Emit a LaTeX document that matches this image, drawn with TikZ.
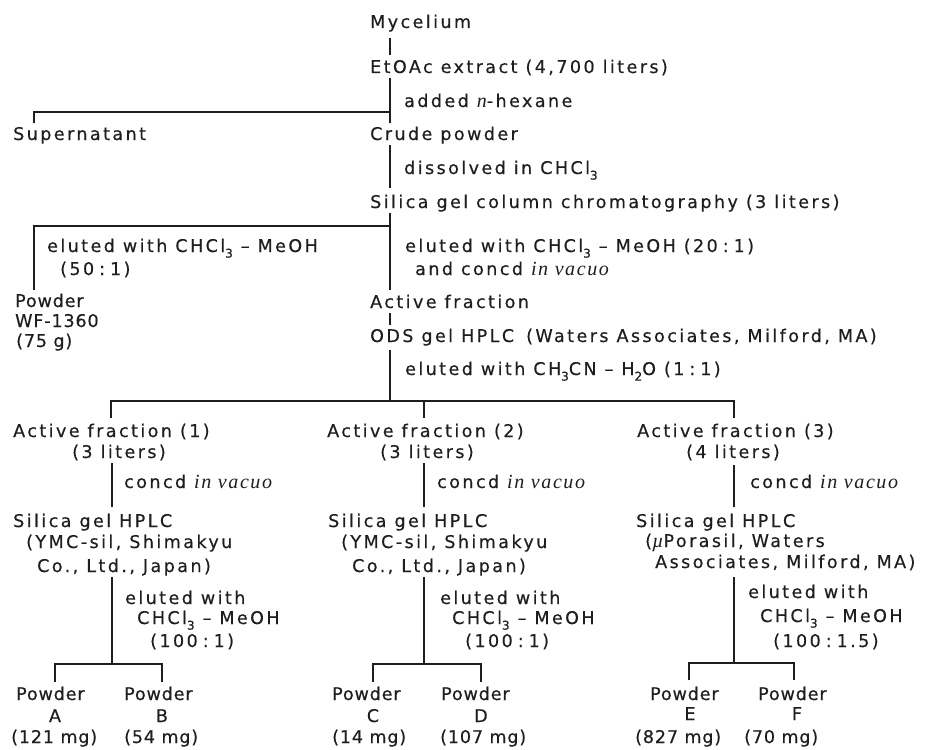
\documentclass[tikz,border=0pt]{standalone}
\usepackage{fontspec}
\setmainfont{DejaVu Sans}[LetterSpace=14,FakeBold=0.4]
\newfontfamily\seriffont{Liberation Serif}[LetterSpace=8]
\newcommand\itx[1]{{\fontsize{20}{20}\seriffont\itshape #1}}
\newcommand\lowsub[1]{\raisebox{-0.32em}{\fontsize{12}{12}\selectfont #1}}
\newcommand\rat[2]{(#1\hspace{5pt}:\hspace{5pt}#2)}
\definecolor{ink}{HTML}{1E1E1E}
\begin{document}
\begin{tikzpicture}[x=1pt,y=-1pt,
  txt/.style={anchor=base west, inner sep=0pt, font=\fontsize{17.5}{20}\selectfont, text=ink},
  tight/.style={txt, font=\fontsize{17.5}{20}\selectfont\addfontfeature{LetterSpace=5}},
  ctr/.style={anchor=base, inner sep=0pt, font=\fontsize{17.5}{20}\selectfont, text=ink},
  conn/.style={draw=ink, line width=1.5pt}]
\fill[white] (0,0) rectangle (933,749);
\useasboundingbox (0,0) rectangle (933,749);

% ---- top part ----
\node[txt] (myc) at (370,28) {Mycelium};
\node[txt] (etoac) at (370,73) {EtOAc extract (4,700 liters)};
\node[txt] (hex) at (404,107) {added \itx{n}-hexane};
\node[txt] (sup) at (13,140) {Supernatant};
\node[txt] (crude) at (370,140) {Crude powder};
\node[txt] (diss) at (404,174) {dissolved in CHCl\lowsub{3}};
\node[txt] (scol) at (370,208) {Silica gel column chromatography (3 liters)};
\node[txt] (ela) at (47,252) {eluted with CHCl\lowsub{3} -- MeOH};
\node[txt] (elb) at (60,275) {\rat{50}{1}};
\node[txt] (elc) at (405,252) {eluted with CHCl\lowsub{3} -- MeOH \rat{20}{1}};
\node[txt] (eld) at (415,275) {and concd \itx{in vacuo}};
\node[tight] (pw) at (15,307) {Powder};
\node[tight] (wf) at (15,327) {WF-1360};
\node[tight] (g75) at (16,347) {(75 g)};
\node[txt] (act) at (370,308) {Active fraction};
\node[txt] (ods) at (370,342) {ODS gel HPLC\hspace{4pt} (Waters Associates, Milford, MA)};
\node[txt] (ele) at (405,375) {eluted with CH\lowsub{3}CN -- H\lowsub{2}O \rat{1}{1}};

% ---- column 1 ----
\node[txt] (af1) at (13,437) {Active fraction (1)};
\node[txt] (li1) at (72,458) {(3 liters)};
\node[txt] (cv1) at (124,488) {concd \itx{in vacuo}};
\node[txt] (sg1) at (13,527) {Silica gel HPLC};
\node[txt] (ym1) at (26,548) {(YMC-sil, Shimakyu};
\node[txt] (co1) at (37,572) {Co., Ltd., Japan)};
\node[txt] (ew1) at (125,604) {eluted with};
\node[txt] (cm1) at (137,624) {CHCl\lowsub{3} -- MeOH};
\node[txt] (ra1) at (150,647) {\rat{100}{1}};
\node[tight] (pA) at (16,700) {Powder};
\node[tight] (pB) at (124,700) {Powder};
\node[ctr] (lA) at (55,722) {A};
\node[ctr] (lB) at (162,722) {B};
\node[tight] (mA) at (11,743) {(121 mg)};
\node[tight] (mB) at (124,743) {(54 mg)};

% ---- column 2 ----
\node[txt] (af2) at (327,437) {Active fraction (2)};
\node[txt] (li2) at (380,458) {(3 liters)};
\node[txt] (cv2) at (437,488) {concd \itx{in vacuo}};
\node[txt] (sg2) at (328,527) {Silica gel HPLC};
\node[txt] (ym2) at (341,548) {(YMC-sil, Shimakyu};
\node[txt] (co2) at (352,572) {Co., Ltd., Japan)};
\node[txt] (ew2) at (440,604) {eluted with};
\node[txt] (cm2) at (452,624) {CHCl\lowsub{3} -- MeOH};
\node[txt] (ra2) at (465,647) {\rat{100}{1}};
\node[tight] (pC) at (332,700) {Powder};
\node[tight] (pD) at (441,700) {Powder};
\node[ctr] (lC) at (373,722) {C};
\node[ctr] (lD) at (481,722) {D};
\node[tight] (mC) at (332,743) {(14 mg)};
\node[tight] (mD) at (440,743) {(107 mg)};

% ---- column 3 ----
\node[txt] (af3) at (637,437) {Active fraction (3)};
\node[txt] (li3) at (686,458) {(4 liters)};
\node[txt] (cv3) at (750,488) {concd \itx{in vacuo}};
\node[txt] (sg3) at (636,527) {Silica gel HPLC};
\node[txt] (ym3) at (645,547) {(\itx{µ}Porasil, Waters};
\node[txt] (co3) at (655,568) {Associates, Milford, MA)};
\node[txt] (ew3) at (748,598) {eluted with};
\node[txt] (cm3) at (760,622) {CHCl\lowsub{3} -- MeOH};
\node[txt] (ra3) at (773,647) {\rat{100}{1.5}};
\node[tight] (pE) at (650,700) {Powder};
\node[tight] (pF) at (758,700) {Powder};
\node[ctr] (lE) at (690,720) {E};
\node[ctr] (lF) at (797,720) {F};
\node[tight] (mE) at (635,743) {(827 mg)};
\node[tight] (mF) at (744,743) {(70 mg)};

% ---- connector coordinates ----
\coordinate (a1) at (390,38);  \coordinate (a2) at (390,55);
\coordinate (b1) at (390,78);  \coordinate (b2) at (390,123);
\coordinate (bj) at (390,112); \coordinate (bl) at (34,112); \coordinate (bs) at (34,123);
\coordinate (c1) at (390,145); \coordinate (c2) at (390,188);
\coordinate (d1) at (390,213); \coordinate (d2) at (390,290);
\coordinate (dj) at (390,226); \coordinate (dl) at (34,226); \coordinate (ds) at (34,290);
\coordinate (e1) at (390,313); \coordinate (e2) at (390,325);
\coordinate (f1) at (390,350); \coordinate (f2) at (390,401);
\coordinate (fl) at (111,401); \coordinate (fm) at (424,401); \coordinate (fr) at (734,401);
\coordinate (fl2) at (111,418); \coordinate (fm2) at (424,418); \coordinate (fr2) at (734,418);
% column lines
\coordinate (g11) at (112,463); \coordinate (g12) at (112,507);
\coordinate (h11) at (112,577); \coordinate (h12) at (112,664);
\coordinate (k1l) at (55,664);  \coordinate (k1r) at (162,664);
\coordinate (k1l2) at (55,682); \coordinate (k1r2) at (162,682);
\coordinate (g21) at (424,463); \coordinate (g22) at (424,507);
\coordinate (h21) at (424,577); \coordinate (h22) at (424,664);
\coordinate (k2l) at (373,664); \coordinate (k2r) at (481,664);
\coordinate (k2l2) at (373,682); \coordinate (k2r2) at (481,682);
\coordinate (g31) at (734,465); \coordinate (g32) at (734,507);
\coordinate (h31) at (734,577); \coordinate (h32) at (734,663);
\coordinate (k3l) at (689,663); \coordinate (k3r) at (794,663);
\coordinate (k3l2) at (689,680); \coordinate (k3r2) at (794,680);

\draw[conn] (a1) -- (a2);
\draw[conn] (b1) -- (b2);
\draw[conn] (bj) -- (bl) -- (bs);
\draw[conn] (c1) -- (c2);
\draw[conn] (d1) -- (d2);
\draw[conn] (dj) -- (dl) -- (ds);
\draw[conn] (e1) -- (e2);
\draw[conn] (f1) -- (f2);
\draw[conn] (fl2) -- (fl) -- (fr) -- (fr2);
\draw[conn] (fm) -- (fm2);
\draw[conn] (g11) -- (g12);
\draw[conn] (h11) -- (h12);
\draw[conn] (k1l2) -- (k1l) -- (k1r) -- (k1r2);
\draw[conn] (g21) -- (g22);
\draw[conn] (h21) -- (h22);
\draw[conn] (k2l2) -- (k2l) -- (k2r) -- (k2r2);
\draw[conn] (g31) -- (g32);
\draw[conn] (h31) -- (h32);
\draw[conn] (k3l2) -- (k3l) -- (k3r) -- (k3r2);
\end{tikzpicture}
\end{document}
